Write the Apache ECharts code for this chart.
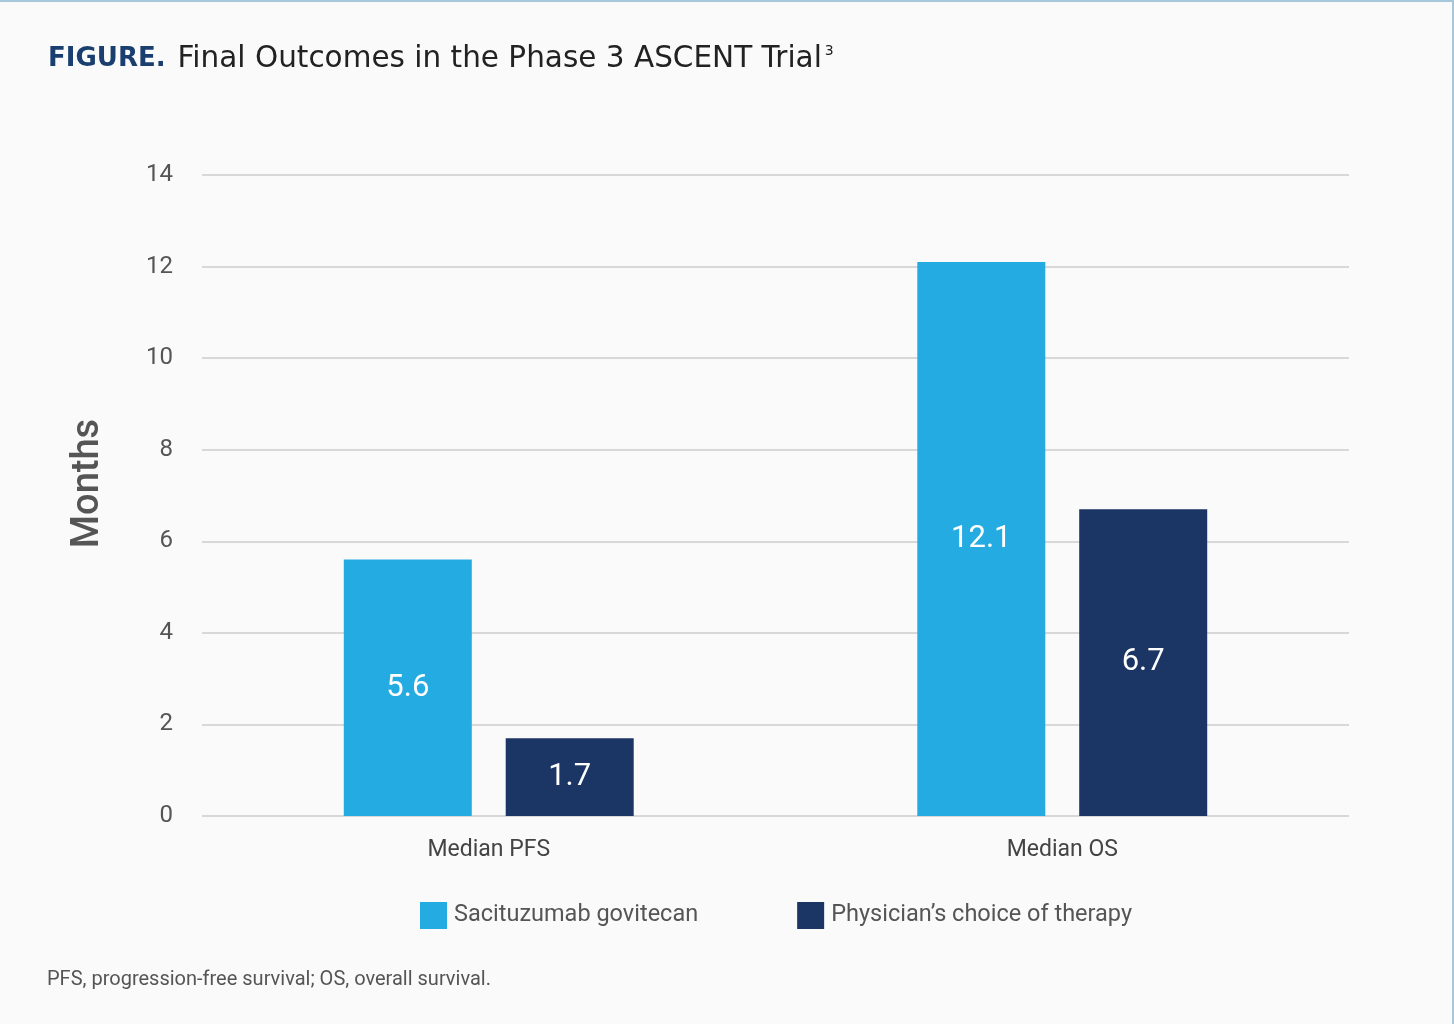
<!DOCTYPE html>
<html>
<head>
<meta charset="utf-8">
<script src="https://cdn.jsdelivr.net/npm/echarts@6/dist/echarts.min.js"></script>
<style>
html,body{margin:0;padding:0;background:#fafafa;}
#chart{width:1454px;height:1024px;}
</style>
</head>
<body>
<div id="chart"></div>
<script>
const categories = ['Median PFS', 'Median OS'];
const seriesNames = ['Sacituzumab govitecan', 'Physician\u2019s choice of therapy'];
const sacituzumab = [5.6, 12.1];
const physician = [1.7, 6.7];
const yTicks = [0, 2, 4, 6, 8, 10, 12, 14];

const FONT = 'Roboto, "Noto Sans", sans-serif';
const chart = echarts.init(document.getElementById('chart'));
const labelCfg = {
  show: true, position: 'inside', color: '#ffffff',
  fontFamily: FONT, fontSize: 31
};
chart.setOption({
  backgroundColor: '#fafafa',
  animation: false,
  graphic: [
    { type: 'rect', shape: { x: 0, y: 0, width: 1454, height: 2 }, style: { fill: '#a6c8dc' } },
    { type: 'rect', shape: { x: 1452, y: 0, width: 2, height: 1024 }, style: { fill: '#a6c8dc' } },
    {
      type: 'text', left: 48, top: 44,
      style: {
        text: '{b|FIGURE.}{r|Final Outcomes in the Phase 3 ASCENT Trial}{s|3}',
        rich: {
          b: { fontFamily: '"DejaVu Sans", sans-serif', fontSize: 26, fontWeight: 'bold', fill: '#1a3f6f', padding: [0, 12, 0, 0] },
          r: { fontFamily: '"DejaVu Sans", sans-serif', fontSize: 29.5, fill: '#222222' },
          s: { fontFamily: '"DejaVu Sans", sans-serif', fontSize: 14, fill: '#222222', verticalAlign: 'top', padding: [0, 0, 16, 3] }
        }
      }
    },
    {
      type: 'text', left: 47, top: 970,
      style: { text: 'PFS, progression-free survival; OS, overall survival.', fontFamily: FONT, fontSize: 20, fill: '#555555' }
    }
  ],
  legend: {
    data: seriesNames,
    left: 415, top: 897,
    itemWidth: 27, itemHeight: 27, itemGap: 99,
    icon: 'rect',
    textStyle: { fontFamily: FONT, fontSize: 23.5, color: '#555555', padding: [0, 0, 0, 2] }
  },
  grid: { left: 202, right: 105, top: 175, bottom: 208, containLabel: false },
  xAxis: {
    type: 'category', data: categories,
    axisLine: { show: false }, axisTick: { show: false },
    axisLabel: { fontFamily: FONT, fontSize: 23, color: '#444444', margin: 23 }
  },
  yAxis: {
    type: 'value', min: yTicks[0], max: yTicks[yTicks.length - 1], interval: 2,
    name: 'Months', nameLocation: 'middle', nameGap: 95, nameRotate: 90,
    nameTextStyle: { fontFamily: FONT, fontSize: 38, fontWeight: 500, color: '#555555', padding: [0, 0, 0, 24] },
    axisLine: { show: false }, axisTick: { show: false },
    axisLabel: { fontFamily: FONT, fontSize: 24, color: '#555555', margin: 29, padding: [0, 0, 4, 0] },
    splitLine: { lineStyle: { color: '#d8d8d8', width: 2 } }
  },
  series: [
    { name: seriesNames[0], type: 'bar', data: sacituzumab, barWidth: 128, barGap: '26.5%',
      itemStyle: { color: '#24ace2' }, label: labelCfg },
    { name: seriesNames[1], type: 'bar', data: physician, barWidth: 128,
      itemStyle: { color: '#1b3564' }, label: labelCfg }
  ]
});
</script>
</body>
</html>
